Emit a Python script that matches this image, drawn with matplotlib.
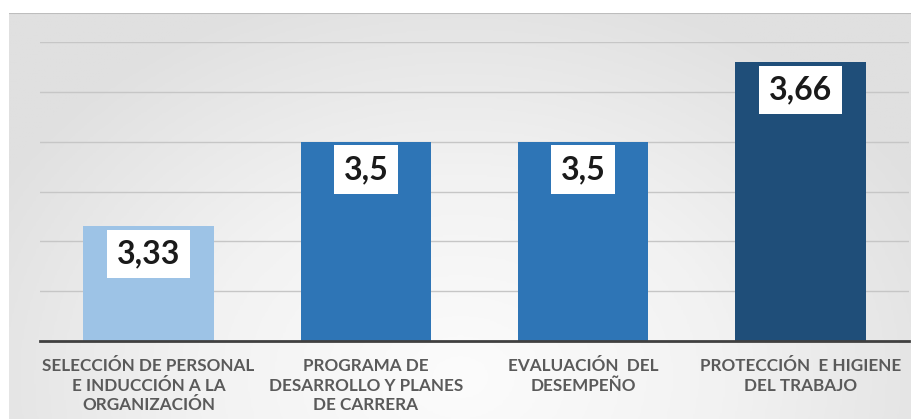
import matplotlib.pyplot as plt
import numpy as np
from matplotlib.colors import LinearSegmentedColormap

# Datos del gráfico
CATEGORIAS = [
    "SELECCIÓN DE PERSONAL\nE INDUCCIÓN A LA\nORGANIZACIÓN",
    "PROGRAMA DE\nDESARROLLO Y PLANES\nDE CARRERA",
    "EVALUACIÓN  DEL\nDESEMPEÑO",
    "PROTECCIÓN  E HIGIENE\nDEL TRABAJO",
]
VALORES = [3.33, 3.5, 3.5, 3.66]
ETIQUETAS = ["3,33", "3,5", "3,5", "3,66"]
COLORES = ["#9DC3E6", "#2E75B6", "#2E75B6", "#1F4E79"]

ANCHO, ALTO, DPI = 912, 419, 100
FUENTE = "Lato"


def main() -> None:
    fig = plt.figure(figsize=(ANCHO / DPI, ALTO / DPI), dpi=DPI)
    fig.patch.set_facecolor("white")

    # Fondo degradado del área del gráfico
    fondo = fig.add_axes([9 / ANCHO, 0, 1 - 9 / ANCHO, (ALTO - 13) / ALTO])
    nx, ny = 300, 150
    gx = np.linspace(-1, 1, nx)
    gy = np.linspace(0, 1, ny)
    X, Y = np.meshgrid(gx, gy)
    d = np.sqrt((X * 0.85) ** 2 + ((Y - 0.9) * 1.0) ** 2)
    d = np.clip(d, 0, 1)
    cmap = LinearSegmentedColormap.from_list("fondo", ["#fcfcfc", "#f2f2f2", "#e0e0e0"])
    fondo.imshow(d, cmap=cmap, aspect="auto", origin="upper", extent=(0, 1, 0, 1),
                 vmin=0, vmax=1)
    fondo.axhline(1, color="#bdbdbd", lw=1.5)
    fondo.set_axis_off()

    # Área de trazado
    ax = fig.add_axes([40 / ANCHO, (ALTO - 341) / ALTO,
                       (909 - 40) / ANCHO, (341 - 42) / ALTO])
    ax.patch.set_alpha(0)
    x = np.arange(len(VALORES))
    barras = ax.bar(x, [v - 3.1 for v in VALORES], bottom=3.1, width=0.6,
                    color=COLORES, zorder=3)
    ax.set_xlim(-0.5, 3.5)
    ax.set_ylim(3.1, 3.7)
    ax.set_yticks(np.arange(3.2, 3.71, 0.1))
    ax.yaxis.grid(True, color="#c6c6c6", lw=1.0, zorder=0)
    ax.tick_params(axis="y", left=False, labelleft=False)
    for lado in ("top", "right", "left"):
        ax.spines[lado].set_visible(False)
    ax.spines["bottom"].set_color("#404040")
    ax.spines["bottom"].set_linewidth(2)
    ax.spines["bottom"].set_zorder(4)

    ax.set_xticks(x)
    ax.set_xticklabels(CATEGORIAS, fontfamily=FUENTE, fontweight="bold",
                       fontsize=12.3, color="#5a5a5a", linespacing=1.3)
    ax.tick_params(axis="x", length=0, pad=12)

    # Etiquetas de valor dentro de cada barra
    for barra, valor, texto in zip(barras, VALORES, ETIQUETAS):
        ax.annotate(texto, (barra.get_x() + barra.get_width() / 2, valor),
                    xytext=(0, -20), textcoords="offset points",
                    ha="center", va="center", fontfamily=FUENTE,
                    fontweight="bold", fontsize=23, color="#1a1a1a", zorder=5,
                    bbox=dict(boxstyle="square,pad=0.3", fc="white", ec="none"))

    fig.savefig("out.png", dpi=DPI)
    plt.close(fig)


if __name__ == "__main__":
    main()
